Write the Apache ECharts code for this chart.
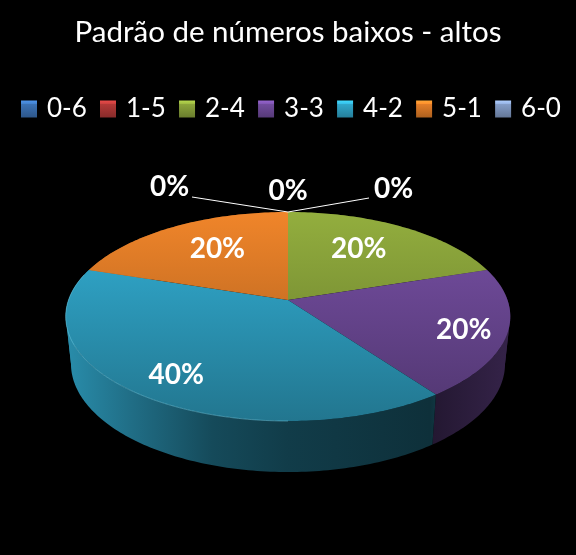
<!DOCTYPE html>
<html><head><meta charset="utf-8">
<style>html,body{margin:0;padding:0;background:#000}#c{width:576px;height:555px}</style>
<script src="https://cdn.jsdelivr.net/npm/echarts@6/dist/echarts.min.js"></script>
</head><body><div id="c"></div>
<script>
const titleText = 'Padrão de números baixos - altos';
const categories = ['0-6','1-5','2-4','3-3','4-2','5-1','6-0'];
const shares = [0,0,20,20,40,20,0];
const faceColors = ['#3E78BE','#BC3C3A','#93AE3E','#7850A6','#33B0D6','#F0852A','#8BA5D2'];
const labelRadius = [0,0,0.645,0.815,0.80,0.645,0];
const labelAngleShift = [0,0,-3.2,2.3,-1.2,3.2,0];
const zeroLabelOffset = {0:[105.5,-23],1:[0,-21],6:[-118.5,-25]};
const zeroLeaderEnd = {0:[81,-14],6:[-96,-15]};

// perspective model of the disc
const P = -0.158;
const TOP = {cx:288, cy:300, a:219.5, b:101.9};
const BASE = {cx:288, cy:346.7, a:214.3, b:105.5};
const SILHOUETTE = [Math.acos(P)*180/Math.PI, 360-Math.acos(P)*180/Math.PI];
function project(f, deg, r){
  const t = deg*Math.PI/180, u = r*Math.sin(t), v = -r*Math.cos(t), w = 1+P*v;
  return [f.cx+f.a*u/w, f.cy+f.b*v/w];
}
function shade(hex,k){
  const n = parseInt(hex.slice(1),16);
  const c = s => Math.min(255,Math.round(((n>>s)&255)*k));
  return `rgb(${c(16)},${c(8)},${c(0)})`;
}
function arc(f,a0,a1){ const p=[]; const n=Math.max(1,Math.ceil(a1-a0)); for(let i=0;i<=n;i++) p.push(project(f,a0+(a1-a0)*i/n,1)); return p; }
const total = shares.reduce((a,b)=>a+b,0);
const startDeg = []; shares.reduce((acc,v,i)=>{startDeg[i]=acc;return acc+v/total*360;},0);

function wallFill(col){
  return new echarts.graphic.LinearGradient(66,0,510,0,[
    {offset:0,color:shade(col,0.80)},{offset:0.15,color:shade(col,0.62)},
    {offset:0.33,color:shade(col,0.42)},{offset:0.5,color:shade(col,0.34)},
    {offset:0.82,color:shade(col,0.27)},{offset:0.83,color:shade(col,0.30)},
    {offset:1,color:shade(col,0.44)}],true);
}
function renderSlice(i){
  return function(params, api){
    const value = api.value(0), a0 = startDeg[i], a1 = a0+value/total*360, kids = [];
    const col = faceColors[i];
    const pct = Math.round(value/total*100)+'%';
    if(value>0){
      const cuts=[a0].concat(SILHOUETTE.filter(s=>s>a0&&s<a1),[a1]);
      for(let k=0;k<cuts.length-1;k++){
        const t=arc(TOP,cuts[k],cuts[k+1]), b=arc(BASE,cuts[k],cuts[k+1]);
        kids.push({type:'polygon',z2:1,shape:{points:t.concat(b.reverse())},style:{fill:wallFill(col)}});
      }
      kids.push({type:'polygon',z2:5,shape:{points:[project(TOP,0,0)].concat(arc(TOP,a0,a1))},
        style:{fill:new echarts.graphic.LinearGradient(0,212,0,421,[
          {offset:0,color:shade(col,1)},{offset:1,color:shade(col,0.67)}],true)}});
      if(a1>144 && a0<288) kids.push({type:'polyline',z2:6,shape:{points:arc(TOP,Math.max(a0,180),Math.min(a1,285))},
        style:{fill:null,stroke:'rgba(120,210,235,0.45)',lineWidth:1}});
      const mid=(a0+a1)/2+labelAngleShift[i], lp=project(TOP,mid,labelRadius[i]);
      kids.push({type:'text',z2:20,x:lp[0],y:lp[1],style:{text:pct,fill:'#fff',font:'bold 28px Lato',align:'center',verticalAlign:'middle'}});
    } else {
      const apex=project(TOP,0,1), off=zeroLabelOffset[i];
      kids.push({type:'text',z2:20,x:apex[0]+off[0],y:apex[1]+off[1],style:{text:pct,fill:'#fff',font:'bold 28px Lato',align:'center',verticalAlign:'middle'}});
      const e=zeroLeaderEnd[i];
      if(e) kids.push({type:'line',z2:10,shape:{x1:apex[0],y1:apex[1],x2:apex[0]+e[0],y2:apex[1]+e[1]},style:{stroke:'#fff',lineWidth:1}});
    }
    return {type:'group',children:kids};
  };
}
function swatch(col){
  return new echarts.graphic.LinearGradient(0,0,0,1,[
    {offset:0,color:shade(col,1.25)},{offset:0.18,color:shade(col,1.1)},
    {offset:0.22,color:shade(col,0.95)},{offset:1,color:shade(col,0.72)}]);
}
const chart = echarts.init(document.getElementById('c'),null,{renderer:'canvas'});
chart.setOption({
  backgroundColor:'#000',
  animation:false,
  title:{text:titleText,left:'center',top:12,textStyle:{color:'#fff',fontFamily:'Lato',fontWeight:'normal',fontSize:29.5}},
  legend:{left:21,top:96,padding:0,selectedMode:false,itemWidth:16,itemHeight:17,itemGap:13.2,icon:'rect',
    textStyle:{color:'#fff',fontFamily:'Lato',fontSize:26,padding:[0,0,0,5]},
    data:categories.map((name,i)=>({name,itemStyle:{color:swatch(faceColors[i])}}))},
  series:categories.map((name,i)=>({type:'custom',name,coordinateSystem:'none',silent:true,data:[[shares[i]]],renderItem:renderSlice(i)}))
});
</script></body></html>
